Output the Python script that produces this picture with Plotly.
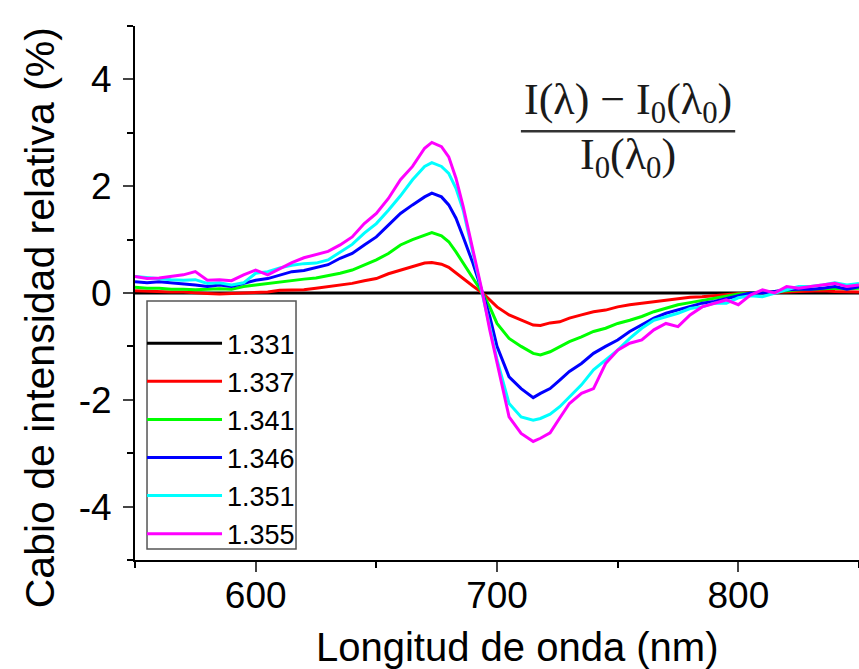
import plotly.graph_objects as go

wavelength = [550, 555, 560, 565, 570, 575, 580, 585, 590, 595, 600, 605, 610, 615, 620, 625, 630, 635, 640, 645,
              650, 655, 660, 665, 670, 673, 677, 680, 683, 686, 690, 694, 697, 700, 705, 710, 715, 718, 722, 726,
              730, 735, 740, 745, 750, 755, 760, 765, 770, 775, 780, 785, 790, 795, 800, 805, 810, 815, 820, 825,
              830, 835, 840, 845, 850]

n_1331 = [0.0] * len(wavelength)

n_1337 = [0.04, 0.03, 0.02, 0.02, 0.02, 0.00, -0.01, -0.02, -0.01, 0.00, 0.02, 0.02, 0.05, 0.06, 0.06, 0.09, 0.12, 0.15, 0.18, 0.23,
          0.27, 0.36, 0.43, 0.50, 0.56, 0.57, 0.54, 0.48, 0.37, 0.27, 0.13, 0.00, -0.13, -0.26, -0.41, -0.51, -0.60, -0.61, -0.56, -0.54,
          -0.47, -0.41, -0.35, -0.32, -0.26, -0.22, -0.19, -0.16, -0.13, -0.10, -0.08, -0.07, -0.05, -0.04, -0.01, 0.01, 0.01, 0.01, 0.02, 0.03,
          0.04, 0.04, 0.03, 0.02, 0.02]

n_1341 = [0.11, 0.09, 0.09, 0.07, 0.07, 0.06, 0.07, 0.08, 0.07, 0.12, 0.15, 0.18, 0.21, 0.23, 0.26, 0.28, 0.32, 0.37, 0.43, 0.52,
          0.62, 0.74, 0.90, 1.00, 1.09, 1.13, 1.07, 0.96, 0.77, 0.56, 0.27, 0.00, -0.26, -0.57, -0.85, -1.00, -1.13, -1.16, -1.10, -1.00,
          -0.91, -0.82, -0.72, -0.66, -0.57, -0.51, -0.44, -0.35, -0.29, -0.22, -0.18, -0.14, -0.10, -0.07, -0.02, 0.00, 0.01, 0.03, 0.04, 0.06,
          0.07, 0.07, 0.09, 0.08, 0.09]

n_1346 = [0.21, 0.19, 0.21, 0.19, 0.18, 0.15, 0.12, 0.15, 0.12, 0.18, 0.24, 0.27, 0.34, 0.40, 0.42, 0.47, 0.53, 0.65, 0.74, 0.90,
          1.05, 1.27, 1.49, 1.65, 1.80, 1.87, 1.80, 1.65, 1.40, 1.05, 0.56, 0.00, -0.44, -1.00, -1.57, -1.79, -1.96, -1.88, -1.79, -1.63,
          -1.47, -1.32, -1.13, -1.00, -0.88, -0.72, -0.60, -0.47, -0.38, -0.32, -0.26, -0.19, -0.16, -0.10, -0.05, 0.00, 0.00, 0.03, 0.06, 0.07,
          0.07, 0.09, 0.12, 0.07, 0.12]

n_1351 = [0.31, 0.29, 0.26, 0.25, 0.24, 0.25, 0.18, 0.19, 0.15, 0.19, 0.37, 0.40, 0.47, 0.52, 0.55, 0.56, 0.62, 0.77, 0.91, 1.12,
          1.30, 1.55, 1.82, 2.12, 2.37, 2.44, 2.37, 2.24, 1.96, 1.55, 0.77, 0.00, -0.63, -1.25, -2.07, -2.32, -2.38, -2.35, -2.27, -2.13,
          -1.94, -1.72, -1.44, -1.25, -1.07, -0.85, -0.66, -0.51, -0.44, -0.38, -0.29, -0.26, -0.19, -0.19, -0.09, -0.05, -0.07, 0.00, 0.06, 0.12,
          0.12, 0.15, 0.19, 0.15, 0.18]

n_1355 = [0.31, 0.27, 0.28, 0.31, 0.34, 0.40, 0.24, 0.25, 0.23, 0.34, 0.43, 0.34, 0.46, 0.57, 0.66, 0.72, 0.78, 0.90, 1.05, 1.30,
          1.49, 1.77, 2.12, 2.37, 2.71, 2.82, 2.74, 2.55, 2.15, 1.62, 0.81, 0.00, -0.69, -1.32, -2.32, -2.63, -2.78, -2.72, -2.62, -2.34,
          -2.07, -1.88, -1.79, -1.32, -1.07, -0.94, -0.88, -0.69, -0.57, -0.63, -0.41, -0.26, -0.19, -0.13, -0.22, -0.04, 0.06, 0.00, 0.12, 0.09,
          0.12, 0.15, 0.18, 0.12, 0.15]

series_names = ["1.331", "1.337", "1.341", "1.346", "1.351", "1.355"]
series_values = [n_1331, n_1337, n_1341, n_1346, n_1351, n_1355]
series_colors = ["#000000", "#FF0000", "#00FF00", "#0000FF", "#00FFFF", "#FF00FF"]

y_tickvals = [-4, -2, 0, 2, 4]
y_ticktext = ["-4", "-2", "0", "2", "4"]
x_tickvals = [600, 700, 800]

x_title = "Longitud de onda (nm)"
y_title = "Cabio de intensidad relativa (%)"

FONT = "Liberation Sans, Arial, sans-serif"

fig = go.Figure()
for name, vals, col in zip(series_names, series_values, series_colors):
    fig.add_trace(go.Scatter(x=wavelength, y=vals, mode="lines", name=name,
                             line=dict(color=col, width=3)))

fig.update_layout(
    width=859, height=669,
    margin=dict(l=135, r=0, t=26, b=109),
    plot_bgcolor="white", paper_bgcolor="white",
    font=dict(family=FONT, color="black", size=32),
    showlegend=True,
    legend=dict(x=0.0097, y=0.451, xanchor="left", yanchor="top",
                bgcolor="rgba(0,0,0,0)", borderwidth=0,
                font=dict(size=27, family=FONT), itemwidth=75,
                tracegroupgap=0),
    xaxis=dict(range=[550, 850], tickvals=x_tickvals, ticks="outside", ticklen=10, tickwidth=2,
               showline=True, linecolor="black", linewidth=2, showgrid=False, zeroline=False,
               tickfont=dict(size=37), automargin=False, ticklabelstandoff=-8,
               minor=dict(dtick=50, tick0=550, ticks="outside", ticklen=6, tickwidth=2, tickcolor="black")),
    yaxis=dict(range=[-5, 5], tickvals=y_tickvals, ticktext=y_ticktext, ticks="outside", ticklen=10, tickwidth=2,
               showline=True, linecolor="black", linewidth=2, showgrid=False, zeroline=False,
               tickfont=dict(size=37), automargin=False, ticklabelstandoff=4,
               minor=dict(dtick=1, tick0=-5, ticks="outside", ticklen=6, tickwidth=2, tickcolor="black")),
)

# axis titles
fig.add_annotation(xref="paper", yref="paper", x=0.528, y=-0.162, xanchor="center", yanchor="middle",
                   text=x_title, showarrow=False, font=dict(family=FONT, size=40, color="black"))
fig.add_annotation(xref="paper", yref="paper", x=-0.131, y=0.453, xanchor="center", yanchor="middle",
                   text=y_title, showarrow=False, textangle=-90,
                   font=dict(family=FONT, size=41, color="black"))

# legend frame
fig.add_shape(type="rect", xref="paper", yref="paper", x0=0.0166, x1=0.2224, y0=0.0206, y1=0.485,
              line=dict(color="#555555", width=1.5), fillcolor="rgba(0,0,0,0)")

# formula
FSER = "Liberation Serif, DejaVu Serif, serif"
fig.add_annotation(xref="paper", yref="paper", x=0.681, y=0.856, xanchor="center", yanchor="middle",
                   text="I(λ) − I<sub>0</sub>(λ<sub>0</sub>)", showarrow=False,
                   font=dict(family=FSER, size=44, color="#1a1a1a"))
fig.add_shape(type="line", xref="paper", yref="paper", x0=0.533, x1=0.829, y0=0.803, y1=0.803,
              line=dict(color="#333333", width=2.5))
fig.add_annotation(xref="paper", yref="paper", x=0.681, y=0.753, xanchor="center", yanchor="middle",
                   text="I<sub>0</sub>(λ<sub>0</sub>)", showarrow=False,
                   font=dict(family=FSER, size=44, color="#1a1a1a"))

fig.write_html("out.html", config={"displayModeBar": False},
               post_script="document.body.style.margin='0';document.body.style.overflow='hidden';")
